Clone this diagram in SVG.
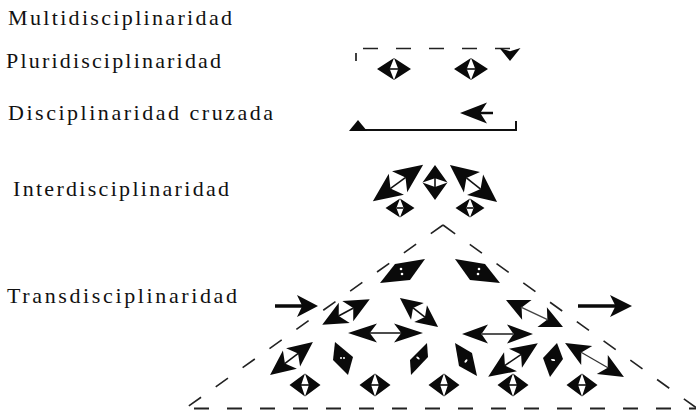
<svg xmlns="http://www.w3.org/2000/svg" width="696" height="414" viewBox="0 0 696 414">
  <style>
    .lbl { font-family: "Liberation Serif", "Times New Roman", serif; font-size: 22px; fill: #111; }
    .ink { fill: #0a0a0a; stroke: none; }
    .shaft { stroke: #111; stroke-width: 1.6; fill: none; }
    .thick { stroke: #0a0a0a; stroke-width: 3.5; fill: none; }
    .dash { stroke: #222; stroke-width: 1.6; fill: none; stroke-dasharray: 15 18; }
    .dashb { stroke: #222; stroke-width: 2.2; fill: none; stroke-dasharray: 15 18; }
    .solid { stroke: #111; stroke-width: 2; fill: none; }
    .hole { fill: #fff; }
  </style>
  <defs>
    <!-- unit barbed arrowhead pointing along +x, tip at the origin -->
    <path id="ah" d="M0,0 L-1,-0.5 L-0.75,0 L-1,0.5 Z"/>
  </defs>

  <rect width="696" height="414" fill="#fff"/>

  <!-- labels -->
  <g id="label-multi"><text class="lbl" x="8" y="25" textLength="224" lengthAdjust="spacing">Multidisciplinaridad</text></g>
  <g id="label-pluri"><text class="lbl" x="6" y="68" textLength="215" lengthAdjust="spacing">Pluridisciplinaridad</text></g>
  <g id="label-cruzada"><text class="lbl" x="8" y="120" textLength="265" lengthAdjust="spacing">Disciplinaridad cruzada</text></g>
  <g id="label-inter"><text class="lbl" x="13" y="196" textLength="216" lengthAdjust="spacing">Interdisciplinaridad</text></g>
  <g id="label-trans"><text class="lbl" x="7" y="303" textLength="230" lengthAdjust="spacing">Transdisciplinaridad</text></g>

  <!-- frames and connecting lines -->
  <g id="connectors">
    <!-- pluridisciplinary open frame -->
    <line x1="356" y1="53" x2="356" y2="61" class="shaft"/>
    <line x1="363" y1="48.5" x2="516" y2="48.5" class="dash"/>
    <!-- cross-disciplinary bracket -->
    <polyline points="352,130 516,130 516,121" class="solid"/>
    <!-- transdisciplinary triangle -->
    <line x1="443" y1="225" x2="186" y2="408" class="dash"/>
    <line x1="443" y1="225" x2="698" y2="409" class="dash"/>
    <line x1="186" y1="408.5" x2="696" y2="408.5" class="dashb" stroke-dashoffset="-8"/>
  </g>

  <!-- pluridisciplinarity -->
  <g id="pluri" class="ink">
    <use href="#ah" transform="translate(510,61) rotate(90) scale(13,21)"/>
    <g transform="translate(394,69)">
      <use href="#ah" transform="translate(17,0) scale(17,22)"/>
      <use href="#ah" transform="translate(-17,0) rotate(180) scale(17,22)"/>
      <line x1="-4.5" x2="4.5" y1="0" y2="0" class="shaft"/>
    </g>
    <g transform="translate(471,69)">
      <use href="#ah" transform="translate(17,0) scale(17,22)"/>
      <use href="#ah" transform="translate(-17,0) rotate(180) scale(17,22)"/>
      <line x1="-4.5" x2="4.5" y1="0" y2="0" class="shaft"/>
    </g>
  </g>

  <!-- cross-disciplinarity -->
  <g id="cruzada" class="ink">
    <polygon points="349,131 358,120 367,131"/>
    <use href="#ah" transform="translate(460,113) rotate(180) scale(27,21)"/>
    <line x1="478" y1="113" x2="493" y2="113" stroke="#0a0a0a" stroke-width="2.5"/>
  </g>

  <!-- interdisciplinarity -->
  <g id="inter" class="ink">
    <g transform="translate(435,182.5) rotate(90)">
      <use href="#ah" transform="translate(17.5,0) scale(17.5,25)"/>
      <use href="#ah" transform="translate(-17.5,0) rotate(180) scale(17.5,25)"/>
      <line x1="-4.5" x2="4.5" y1="0" y2="0" class="shaft"/>
    </g>
    <g transform="translate(398,183) rotate(-35.8)">
      <use href="#ah" transform="translate(31,0) scale(29,26)"/>
      <use href="#ah" transform="translate(-31,0) rotate(180) scale(29,26)"/>
      <line x1="-9.5" x2="9.5" y1="0" y2="0" class="shaft"/>
    </g>
    <g transform="translate(473.5,183.5) rotate(38.2)">
      <use href="#ah" transform="translate(30,0) scale(28,26)"/>
      <use href="#ah" transform="translate(-30,0) rotate(180) scale(28,26)"/>
      <line x1="-9" x2="9" y1="0" y2="0" class="shaft"/>
    </g>
    <g transform="translate(400,208)">
      <use href="#ah" transform="translate(14.5,0) scale(14.5,19)"/>
      <use href="#ah" transform="translate(-14.5,0) rotate(180) scale(14.5,19)"/>
      <line x1="-3.5" x2="3.5" y1="0" y2="0" class="shaft"/>
    </g>
    <g transform="translate(470,208)">
      <use href="#ah" transform="translate(14.5,0) scale(14.5,19)"/>
      <use href="#ah" transform="translate(-14.5,0) rotate(180) scale(14.5,19)"/>
      <line x1="-3.5" x2="3.5" y1="0" y2="0" class="shaft"/>
    </g>
  </g>

  <!-- transdisciplinarity -->
  <g id="trans" class="ink">
    <!-- inflow and outflow -->
    <line x1="275" y1="306" x2="306" y2="306" class="thick"/>
    <use href="#ah" transform="translate(318,306) scale(21,22)"/>
    <line x1="578" y1="306" x2="618" y2="306" class="thick"/>
    <use href="#ah" transform="translate(632,306) scale(22,22)"/>

    <!-- top pair -->
    <polygon points="380,283 395,264 425,259 410,280"/>
    <circle cx="401" cy="269" r="1.3" class="hole"/>
    <circle cx="402" cy="274" r="1.3" class="hole"/>
    <polygon points="500,283 485,264 455,259 470,280"/>
    <circle cx="479" cy="269" r="1.3" class="hole"/>
    <circle cx="478" cy="274" r="1.3" class="hole"/>

    <!-- second row -->
    <g transform="translate(346,312) rotate(-28.4)">
      <use href="#ah" transform="translate(27,0) scale(25,23)"/>
      <use href="#ah" transform="translate(-27,0) rotate(180) scale(25,23)"/>
      <line x1="-8.5" x2="8.5" y1="0" y2="0" class="shaft"/>
    </g>
    <g transform="translate(385.5,333)">
      <use href="#ah" transform="translate(37.5,0) scale(29,19)"/>
      <use href="#ah" transform="translate(-37.5,0) rotate(180) scale(29,19)"/>
      <line x1="-16" x2="16" y1="0" y2="0" class="shaft"/>
    </g>
    <g transform="translate(419,312.5) rotate(37.3)">
      <use href="#ah" transform="translate(24,0) scale(22,21)"/>
      <use href="#ah" transform="translate(-24,0) rotate(180) scale(22,21)"/>
      <line x1="-7.5" x2="7.5" y1="0" y2="0" class="shaft"/>
    </g>
    <g transform="translate(497.5,334)">
      <use href="#ah" transform="translate(35.5,0) scale(26,19)"/>
      <use href="#ah" transform="translate(-35.5,0) rotate(180) scale(26,19)"/>
      <line x1="-16" x2="16" y1="0" y2="0" stroke="#555" stroke-width="2"/>
    </g>
    <g transform="translate(534.5,313.5) rotate(25.3)">
      <use href="#ah" transform="translate(31.5,0) scale(23,22)"/>
      <use href="#ah" transform="translate(-31.5,0) rotate(180) scale(23,22)"/>
      <line x1="-15" x2="15" y1="0" y2="0" stroke="#444" stroke-width="1.4"/>
    </g>

    <!-- third row -->
    <g transform="translate(291.5,358.5) rotate(-37.5)">
      <use href="#ah" transform="translate(27,0) scale(25,23)"/>
      <use href="#ah" transform="translate(-27,0) rotate(180) scale(25,23)"/>
      <line x1="-8.5" x2="8.5" y1="0" y2="0" class="shaft"/>
    </g>
    <polygon points="335,342 353,357 348,375 333,360"/>
    <circle cx="341" cy="358" r="1" class="hole"/>
    <circle cx="344" cy="358" r="1" class="hole"/>
    <polygon points="427,343 428,357 411,375 410,360"/>
    <ellipse cx="418" cy="358" rx="2" ry="1" transform="rotate(40 418 358)" class="hole"/>
    <polygon points="455,343 472,353 477,376 459,366"/>
    <ellipse cx="466" cy="361" rx="2" ry="1" transform="rotate(-50 466 361)" class="hole"/>
    <g transform="translate(513,360) rotate(-34.2)">
      <use href="#ah" transform="translate(30,0) scale(27,23)"/>
      <use href="#ah" transform="translate(-30,0) rotate(180) scale(27,23)"/>
      <line x1="-10" x2="10" y1="0" y2="0" class="shaft"/>
    </g>
    <polygon points="557,343 563,359 550,377 543,358"/>
    <ellipse cx="553" cy="360" rx="2.2" ry="1" transform="rotate(10 553 360)" class="hole"/>
    <g transform="translate(594.5,360) rotate(30)">
      <use href="#ah" transform="translate(34,0) scale(25,22)"/>
      <use href="#ah" transform="translate(-34,0) rotate(180) scale(25,22)"/>
      <line x1="-16" x2="16" y1="0" y2="0" stroke="#333" stroke-width="1.3"/>
    </g>

    <!-- base row -->
    <g transform="translate(305,385)">
      <use href="#ah" transform="translate(15.5,0) scale(15.5,23)"/>
      <use href="#ah" transform="translate(-15.5,0) rotate(180) scale(15.5,23)"/>
      <line x1="-4" x2="4" y1="0" y2="0" class="shaft"/>
    </g>
    <g transform="translate(375,385)">
      <use href="#ah" transform="translate(15.5,0) scale(15.5,23)"/>
      <use href="#ah" transform="translate(-15.5,0) rotate(180) scale(15.5,23)"/>
      <line x1="-4" x2="4" y1="0" y2="0" class="shaft"/>
    </g>
    <g transform="translate(444,385)">
      <use href="#ah" transform="translate(15.5,0) scale(15.5,23)"/>
      <use href="#ah" transform="translate(-15.5,0) rotate(180) scale(15.5,23)"/>
      <line x1="-4" x2="4" y1="0" y2="0" class="shaft"/>
    </g>
    <g transform="translate(513,385)">
      <use href="#ah" transform="translate(15.5,0) scale(15.5,23)"/>
      <use href="#ah" transform="translate(-15.5,0) rotate(180) scale(15.5,23)"/>
      <line x1="-4" x2="4" y1="0" y2="0" class="shaft"/>
    </g>
    <g transform="translate(582,385)">
      <use href="#ah" transform="translate(15.5,0) scale(15.5,23)"/>
      <use href="#ah" transform="translate(-15.5,0) rotate(180) scale(15.5,23)"/>
      <line x1="-4" x2="4" y1="0" y2="0" class="shaft"/>
    </g>
  </g>
</svg>
